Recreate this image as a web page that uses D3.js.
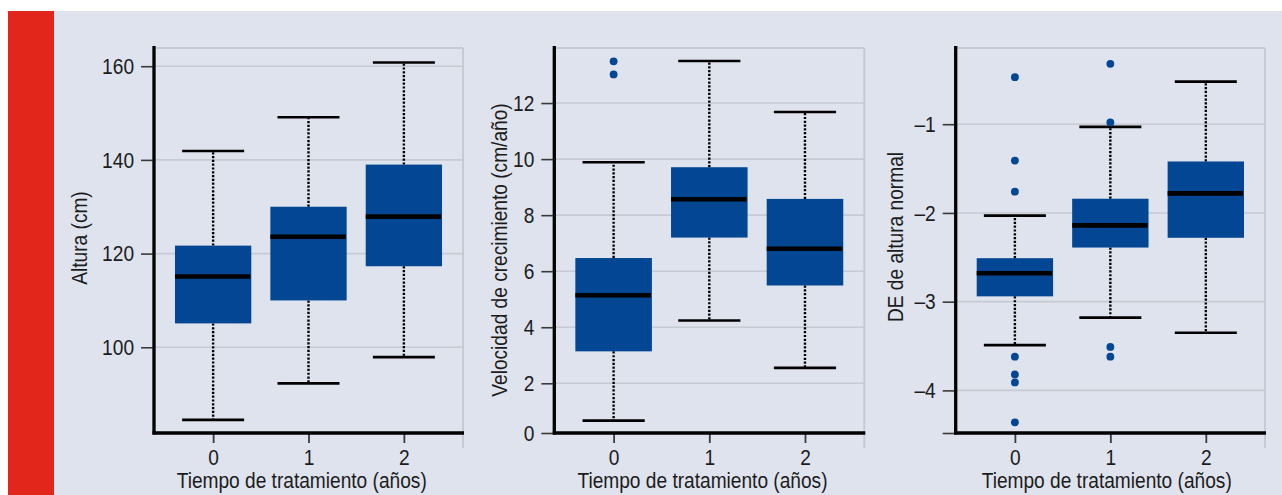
<!DOCTYPE html>
<html><head><meta charset="utf-8">
<script src="https://cdn.jsdelivr.net/npm/d3@7"></script>
<style>
html,body{margin:0;padding:0;background:#fff;}
svg{display:block;}
text{font-family:"Liberation Sans",Arial,sans-serif;fill:#1c1c1c;}
</style></head><body>
<svg id="c" width="1282" height="495"></svg>
<script>
// ---- data ----
const categories = ["0", "1", "2"];
const xTitle = "Tiempo de tratamiento (años)";

// Panel 1: Altura (cm)
const alturaTitle = "Altura (cm)";
const alturaWhiskLow = [84.5, 92.3, 97.9];
const alturaQ1 = [105.1, 110.0, 117.3];
const alturaMedian = [115.1, 123.6, 127.9];
const alturaQ3 = [121.7, 130.0, 139.0];
const alturaWhiskHigh = [141.9, 149.1, 160.8];
const alturaOutliers = [[], [], []];
const alturaTicks = [100, 120, 140, 160];
const alturaTickLabels = ["100", "120", "140", "160"];

// Panel 2: Velocidad de crecimiento (cm/año)
const velTitle = "Velocidad de crecimiento (cm/año)";
const velWhiskLow = [0.5, 4.24, 2.55];
const velQ1 = [3.14, 7.2, 5.49];
const velMedian = [5.14, 8.57, 6.8];
const velQ3 = [6.47, 9.71, 8.58];
const velWhiskHigh = [9.89, 13.5, 11.68];
const velOutliers = [[13.49, 13.02], [], []];
const velTicks = [0, 2, 4, 6, 8, 10, 12];
const velTickLabels = ["0", "2", "4", "6", "8", "10", "12"];

// Panel 3: DE de altura normal
const deTitle = "DE de altura normal";
const deWhiskLow = [-3.49, -3.18, -3.35];
const deQ1 = [-2.94, -2.39, -2.28];
const deMedian = [-2.68, -2.14, -1.78];
const deQ3 = [-2.51, -1.84, -1.42];
const deWhiskHigh = [-2.03, -1.03, -0.52];
const deOutliers = [[-0.47, -1.41, -1.76, -3.62, -3.82, -3.91, -4.36], [-0.32, -0.98, -3.51, -3.62], []];
const deTicks = [-4.48, -4, -3, -2, -1];
const deTickLabels = ["", "–4", "–3", "–2", "–1"];

// ---- layout ----
const svg = d3.select("#c");
const BG = "#dee3ed", RED = "#e2261c", BLUE = "#034694", GRID = "#c6cad2";
svg.append("rect").attr("x", 54).attr("y", 11).attr("width", 1228).attr("height", 484).attr("fill", BG);
svg.append("rect").attr("x", 8).attr("y", 11).attr("width", 46).attr("height", 484).attr("fill", RED);

const yTop = 47, yBot = 433;
const SX = 0.85, FS = 22.5; // condensed look
const panels = [
  {left: 154, right: 463, title: alturaTitle, titleX: 79, titleY: 238, xtc: 301.7,
   y: d3.scaleLinear().domain([81.7, 164.1]).range([yBot, yTop]),
   lo: alturaWhiskLow, q1: alturaQ1, med: alturaMedian, q3: alturaQ3, hi: alturaWhiskHigh, out: alturaOutliers,
   ticks: alturaTicks, labels: alturaTickLabels},
  {left: 554.3, right: 864.3, title: velTitle, titleX: 499, titleY: 250, xtc: 702.5,
   y: d3.scaleLinear().domain([0, 2, 14.0]).range([yBot, 383.3, yTop]),
   lo: velWhiskLow, q1: velQ1, med: velMedian, q3: velQ3, hi: velWhiskHigh, out: velOutliers,
   ticks: velTicks, labels: velTickLabels},
  {left: 955.7, right: 1265, title: deTitle, titleX: 895, titleY: 237, xtc: 1106.7,
   y: d3.scaleLinear().domain([-4.48, -0.13]).range([yBot, yTop]),
   lo: deWhiskLow, q1: deQ1, med: deMedian, q3: deQ3, hi: deWhiskHigh, out: deOutliers,
   ticks: deTicks, labels: deTickLabels}
];

panels.forEach(p => {
  const g = svg.append("g");
  const x = d3.scaleLinear().domain([-0.62, 2.62]).range([p.left, p.right]);
  const y = p.y;

  // gray frame (top and right)
  g.append("line").attr("x1", p.left).attr("x2", p.right).attr("y1", yTop + 1).attr("y2", yTop + 1)
    .attr("stroke", GRID).attr("stroke-width", 2);
  g.append("line").attr("x1", p.right).attr("x2", p.right).attr("y1", yTop + 1).attr("y2", 448)
    .attr("stroke", GRID).attr("stroke-width", 2);

  // gridlines
  g.selectAll(".grid").data(p.ticks.filter(t => y(t) < yBot - 3)).join("line")
    .attr("x1", p.left).attr("x2", p.right).attr("y1", d => y(d)).attr("y2", d => y(d))
    .attr("stroke", GRID).attr("stroke-width", 1.6);

  // y axis ticks
  const yAxis = d3.axisLeft(y).tickValues(p.ticks).tickSize(13).tickPadding(10.5)
    .tickFormat((d, i) => p.labels[i]);
  const ya = g.append("g").attr("transform", `translate(${p.left},0)`).call(yAxis);
  ya.select(".domain").remove();
  ya.selectAll(".tick line").attr("stroke", "#3a3a3a").attr("stroke-width", 1.6);
  ya.selectAll(".tick text").attr("font-size", FS).attr("fill", "#1c1c1c")
    .attr("font-family", '"Liberation Sans",Arial,sans-serif').attr("transform", `scale(${SX},1)`);

  // x axis ticks
  const xAxis = d3.axisBottom(x).tickValues([0, 1, 2]).tickSize(10).tickPadding(6)
    .tickFormat((d, i) => categories[i]);
  const xa = g.append("g").attr("transform", `translate(0,${yBot})`).call(xAxis);
  xa.select(".domain").remove();
  xa.selectAll(".tick line").attr("stroke", "#3a3a3a").attr("stroke-width", 1.8);
  xa.selectAll(".tick text").attr("font-size", FS).attr("fill", "#1c1c1c")
    .attr("font-family", '"Liberation Sans",Arial,sans-serif').attr("transform", `scale(${SX},1)`);

  const idx = [0, 1, 2];
  idx.forEach(i => {
    g.append("line").attr("x1", x(i)).attr("x2", x(i)).attr("y1", y(p.q3[i])).attr("y2", y(p.hi[i]))
      .attr("stroke", "#000").attr("stroke-width", 2.4).attr("stroke-dasharray", "2.2,1.6");
    g.append("line").attr("x1", x(i)).attr("x2", x(i)).attr("y1", y(p.q1[i])).attr("y2", y(p.lo[i]))
      .attr("stroke", "#000").attr("stroke-width", 2.4).attr("stroke-dasharray", "2.2,1.6");
    [p.hi[i], p.lo[i]].forEach(v => {
      g.append("line").attr("x1", x(i - 0.325)).attr("x2", x(i + 0.325)).attr("y1", y(v)).attr("y2", y(v))
        .attr("stroke", "#000").attr("stroke-width", 2.6);
    });
  });
  g.selectAll(".box").data(idx).join("rect")
    .attr("x", i => x(i - 0.4)).attr("width", i => x(i + 0.4) - x(i - 0.4))
    .attr("y", i => y(p.q3[i])).attr("height", i => y(p.q1[i]) - y(p.q3[i]))
    .attr("fill", BLUE);
  g.selectAll(".med").data(idx).join("line")
    .attr("x1", i => x(i - 0.4)).attr("x2", i => x(i + 0.39))
    .attr("y1", i => y(p.med[i])).attr("y2", i => y(p.med[i]))
    .attr("stroke", "#000").attr("stroke-width", 4.6);
  idx.forEach(i => {
    g.selectAll(null).data(p.out[i]).join("circle")
      .attr("cx", x(i)).attr("cy", d => y(d)).attr("r", 3.9).attr("fill", BLUE);
  });

  // axis lines (thick black)
  g.append("line").attr("x1", p.left).attr("x2", p.left).attr("y1", yTop - 1).attr("y2", yBot + 1.5)
    .attr("stroke", "#000").attr("stroke-width", 3.3);
  g.append("line").attr("x1", p.left - 1.5).attr("x2", p.right + 1).attr("y1", yBot).attr("y2", yBot)
    .attr("stroke", "#000").attr("stroke-width", 3.3);

  // titles
  g.append("text").attr("transform", `translate(${p.xtc},488) scale(${SX},1)`).attr("text-anchor", "middle")
    .attr("font-size", FS).text(xTitle);
  g.append("text").attr("transform", `translate(${p.titleX + 8},${p.titleY}) rotate(-90) scale(${SX},1)`)
    .attr("text-anchor", "middle").attr("font-size", FS).text(p.title);
});
</script>
</body></html>
